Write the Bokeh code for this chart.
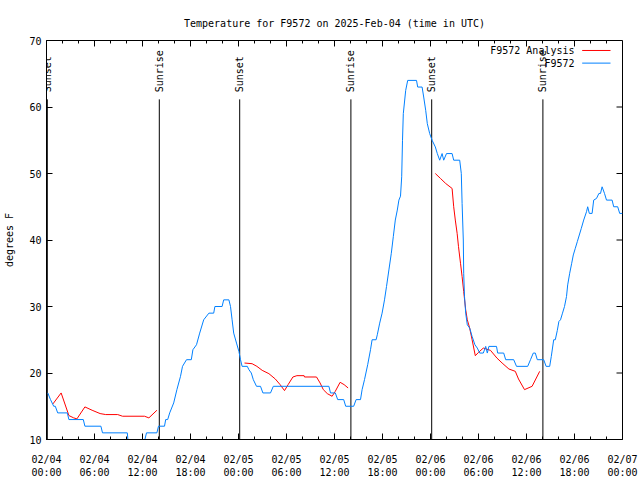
import math
import numpy as np
from bokeh.plotting import figure
from bokeh.models import FixedTicker, Range1d, Label, Arrow
from bokeh.core.properties import value
from bokeh.embed import file_html
from bokeh.resources import INLINE

FONT = "DejaVu Sans Mono"

# ---- data (hours since 2025-02-04 00:00 UTC, degrees F) ----
obs_hours = [0.16, 0.5, 0.9, 1.1, 1.4, 2.6, 2.8, 4.6, 4.8, 6.8, 7.0, 10.1, 10.25, 12.1, 12.3, 12.5,
             13.8, 14.0, 14.75, 14.9, 15.15, 15.4, 15.9, 16.3, 16.75, 17.0, 17.5, 18.1, 18.3, 18.75,
             19.15, 19.65, 20.3, 20.9, 21.05, 21.95, 22.15, 22.8, 23.0, 23.2, 23.4, 23.75, 24.05,
             24.25, 24.45, 25.1, 25.3, 25.6, 25.85, 26.25, 26.75, 27.05, 28.0, 28.35, 35.3, 35.5,
             36.1, 36.4, 37.15, 37.4, 38.4, 38.7, 39.25, 39.45, 39.75, 40.15, 40.5, 40.7, 41.2,
             41.35, 41.65, 41.95, 42.25, 42.5, 42.8, 43.1, 43.35, 43.6, 43.85, 44.05, 44.25, 44.4,
             44.5, 44.6, 44.9, 45.15, 46.25, 46.4, 46.95, 47.15, 47.4, 47.6, 47.9, 48.2, 48.6,
             48.85, 49.15, 49.45, 49.65, 50.0, 50.7, 50.9, 51.65, 51.85, 51.95, 52.1, 52.15, 52.25,
             52.4, 52.6, 52.9, 53.2, 53.55, 53.85, 54.15, 54.6, 54.9, 55.1, 55.3, 56.25, 56.4,
             57.15, 57.4, 58.4, 58.75, 60.15, 60.5, 60.85, 61.1, 61.35, 62.15, 62.45, 62.9, 63.1,
             63.4, 63.6, 63.85, 64.05, 64.25, 64.5, 64.75, 65.0, 65.15, 65.4, 65.65, 65.85, 66.1,
             66.35, 66.6, 66.85, 67.15, 67.5, 67.65, 67.85, 68.2, 68.4, 68.75, 69.05, 69.25, 69.45,
             69.75, 70.0, 70.7, 70.9, 71.4, 71.65, 72.0]
obs_temps = [17, 16, 15, 15, 14, 14, 13, 13, 12, 12, 11, 11, 9, 9, 10, 11,
             11, 12, 12, 13, 13, 14, 15.5, 17.5, 19.5, 21, 22, 22, 23.5, 24.25,
             26, 28, 29, 29, 30, 30, 31, 31, 30, 28, 26, 24.5, 23.25,
             22, 21, 21, 20.5, 20, 19, 18, 18, 17, 17, 18, 18, 17,
             17, 16, 16, 15, 15, 16, 16, 17.5, 19, 21.25, 23.5, 25, 25,
             25.75, 27.5, 29, 31, 33, 35.5, 38, 40.5, 43, 44.5, 46, 46.6, 49.5,
             55, 59, 62.5, 64, 64, 63, 63, 61.5, 59.5, 57.5, 56, 55, 54,
             53, 52, 53, 52, 53, 53, 52, 52, 50, 45.5, 40, 35, 31.5,
             29, 27.25, 26.75, 25.5, 24.25, 23.75, 23, 23, 24, 23, 24, 24, 23,
             23, 22, 22, 21, 21, 22, 23, 23, 22, 22, 21, 21, 22.5,
             25, 25, 26.4, 27.75, 28, 29, 30, 31.5, 33.25, 35, 36.5, 37.75, 38.75,
             39.75, 40.75, 41.75, 43, 44.25, 45, 44, 44, 46, 46.25, 47, 47, 48,
             47, 46, 46, 45, 45, 44, 44]

ana1_hours = [0.8, 1.83, 2.8, 3.4, 3.8, 4.8, 5.7, 6.7, 7.4, 8.9, 9.5, 12.25, 12.8, 13.8]
ana1_temps = [15.35, 17.0, 13.6, 13.25, 13.1, 14.9, 14.4, 13.9, 13.75, 13.75, 13.5, 13.5, 13.25, 14.4]
ana2_hours = [24.75, 25.7, 26.3, 26.96, 27.8, 28.6, 29.2, 29.75, 30.2, 30.8, 31.3, 32.2, 32.25,
              33.75, 34.2, 34.6, 35.1, 35.7, 36.1, 36.7, 37.2, 37.7]
ana2_temps = [21.5, 21.4, 21.0, 20.4, 19.9, 19.1, 18.25, 17.35, 18.25, 19.4, 19.6, 19.6, 19.4,
              19.4, 18.5, 17.5, 16.9, 16.5, 17.25, 18.6, 18.25, 17.75]
ana3_hours = [48.6, 49.25, 49.9, 50.7, 50.9, 51.1, 51.33, 51.5, 51.75, 51.95, 52.15, 52.4, 52.6,
              52.9, 53.2, 53.6, 54.0, 54.6, 55.5, 56.3, 56.95, 57.8, 58.6, 59.0, 59.75, 60.7, 61.65]
ana3_temps = [50, 49.25, 48.5, 47.75, 45, 43, 41, 39, 36.5, 34.5, 32.25, 29.5, 28,
              26.75, 25, 22.6, 23.1, 23.75, 23.4, 22.25, 21.5, 20.6, 20.25, 19.1, 17.5, 18.0, 20.25]

sun_hours = [0.1, 14.1, 24.15, 38.05, 48.15, 62.05]
sun_labels = ["Sunset", "Sunrise", "Sunset", "Sunrise", "Sunset", "Sunrise"]

x_ticks = [0, 6, 12, 18, 24, 30, 36, 42, 48, 54, 60, 66, 72]
x_tick_labels = ["02/04\n00:00", "02/04\n06:00", "02/04\n12:00", "02/04\n18:00",
                 "02/05\n00:00", "02/05\n06:00", "02/05\n12:00", "02/05\n18:00",
                 "02/06\n00:00", "02/06\n06:00", "02/06\n12:00", "02/06\n18:00",
                 "02/07\n00:00"]
x_minor = [h for h in range(0, 73, 2) if h % 6 != 0]
y_ticks = [10, 20, 30, 40, 50, 60, 70]

RED = "#ff0000"
BLUE = "#0080ff"
X0, X1, Y0, Y1 = 0, 72, 10, 70

p = figure(width=640, height=480, output_backend="svg", toolbar_location=None,
           x_range=Range1d(X0, X1), y_range=Range1d(Y0, Y1),
           min_border_left=46, min_border_right=18, min_border_top=40, min_border_bottom=40)
p.title.text = "Temperature for F9572 on 2025-Feb-04 (time in UTC)"
p.title.align = "center"
p.title.text_font = FONT
p.title.text_font_size = "10px"
p.title.text_font_style = "normal"
p.title.text_color = "black"
p.title.standoff = 23
p.grid.visible = False
p.outline_line_color = "black"
p.outline_line_width = 1
p.background_fill_color = "white"
p.border_fill_color = "white"

def style_axis(ax, ticker):
    ax.ticker = ticker
    ax.major_tick_in = 6
    ax.major_tick_out = 0
    ax.minor_tick_in = 3
    ax.minor_tick_out = 0
    ax.axis_line_color = "black"
    ax.major_tick_line_color = "black"
    ax.minor_tick_line_color = "black"
    ax.major_label_text_font = FONT
    ax.major_label_text_font_size = "10px"
    ax.major_label_text_color = "black"

xa = p.xaxis[0]
style_axis(xa, FixedTicker(ticks=x_ticks, minor_ticks=x_minor))
xa.major_label_overrides = {t: s for t, s in zip(x_ticks, x_tick_labels)}
xa.major_label_standoff = 14

ya = p.yaxis[0]
style_axis(ya, FixedTicker(ticks=y_ticks, minor_ticks=[]))
ya.major_label_standoff = 5
ya.axis_label = "degrees F"
ya.axis_label_text_font = FONT
ya.axis_label_text_font_size = "10px"
ya.axis_label_text_font_style = "normal"
ya.axis_label_text_color = "black"
ya.axis_label_standoff = 11

# mirrored inward ticks on top and right edges (gnuplot style)
xpx = (X1 - X0) / 576.0   # hours per pixel
ypx = (Y1 - Y0) / 400.0   # degrees per pixel
p.segment(x0=x_ticks, y0=[Y1] * len(x_ticks), x1=x_ticks, y1=[Y1 - 6 * ypx] * len(x_ticks),
          line_color="black", line_width=1)
p.segment(x0=x_minor, y0=[Y1] * len(x_minor), x1=x_minor, y1=[Y1 - 3 * ypx] * len(x_minor),
          line_color="black", line_width=1)
p.segment(x0=[X1] * len(y_ticks), y0=y_ticks, x1=[X1 - 6 * xpx] * len(y_ticks), y1=y_ticks,
          line_color="black", line_width=1)

# sunrise / sunset markers
p.segment(x0=sun_hours, y0=[Y0] * len(sun_hours), x1=sun_hours, y1=[61.15] * len(sun_hours),
          line_color="black", line_width=1)
p.text(x=sun_hours, y=[62.2] * len(sun_hours), text=sun_labels, angle=math.pi / 2,
       text_align="left", text_baseline="middle", text_font=value(FONT),
       text_font_size="10px", text_color="black")

# analysis (red), gaps between segments
nan = float("nan")
ana_hours = ana1_hours + [nan] + ana2_hours + [nan] + ana3_hours
ana_temps = ana1_temps + [nan] + ana2_temps + [nan] + ana3_temps
p.line(ana_hours, ana_temps, line_color=RED, line_width=1)
p.line(obs_hours, obs_temps, line_color=BLUE, line_width=1)

# gnuplot-style legend (text then sample line)
for txt, col, yy in [("F9572 Analysis", RED, 68.5), ("F9572", BLUE, 66.6)]:
    p.add_layout(Label(x=66.0, y=yy, text=txt, text_align="right", text_baseline="middle",
                       text_font=FONT, text_font_size="10px", text_color="black"))
    p.add_layout(Arrow(x_start=66.96, y_start=yy, x_end=70.5, y_end=yy, start=None, end=None,
                       line_color=col, line_width=1))

open("out.html", "w").write(file_html(p, INLINE))
